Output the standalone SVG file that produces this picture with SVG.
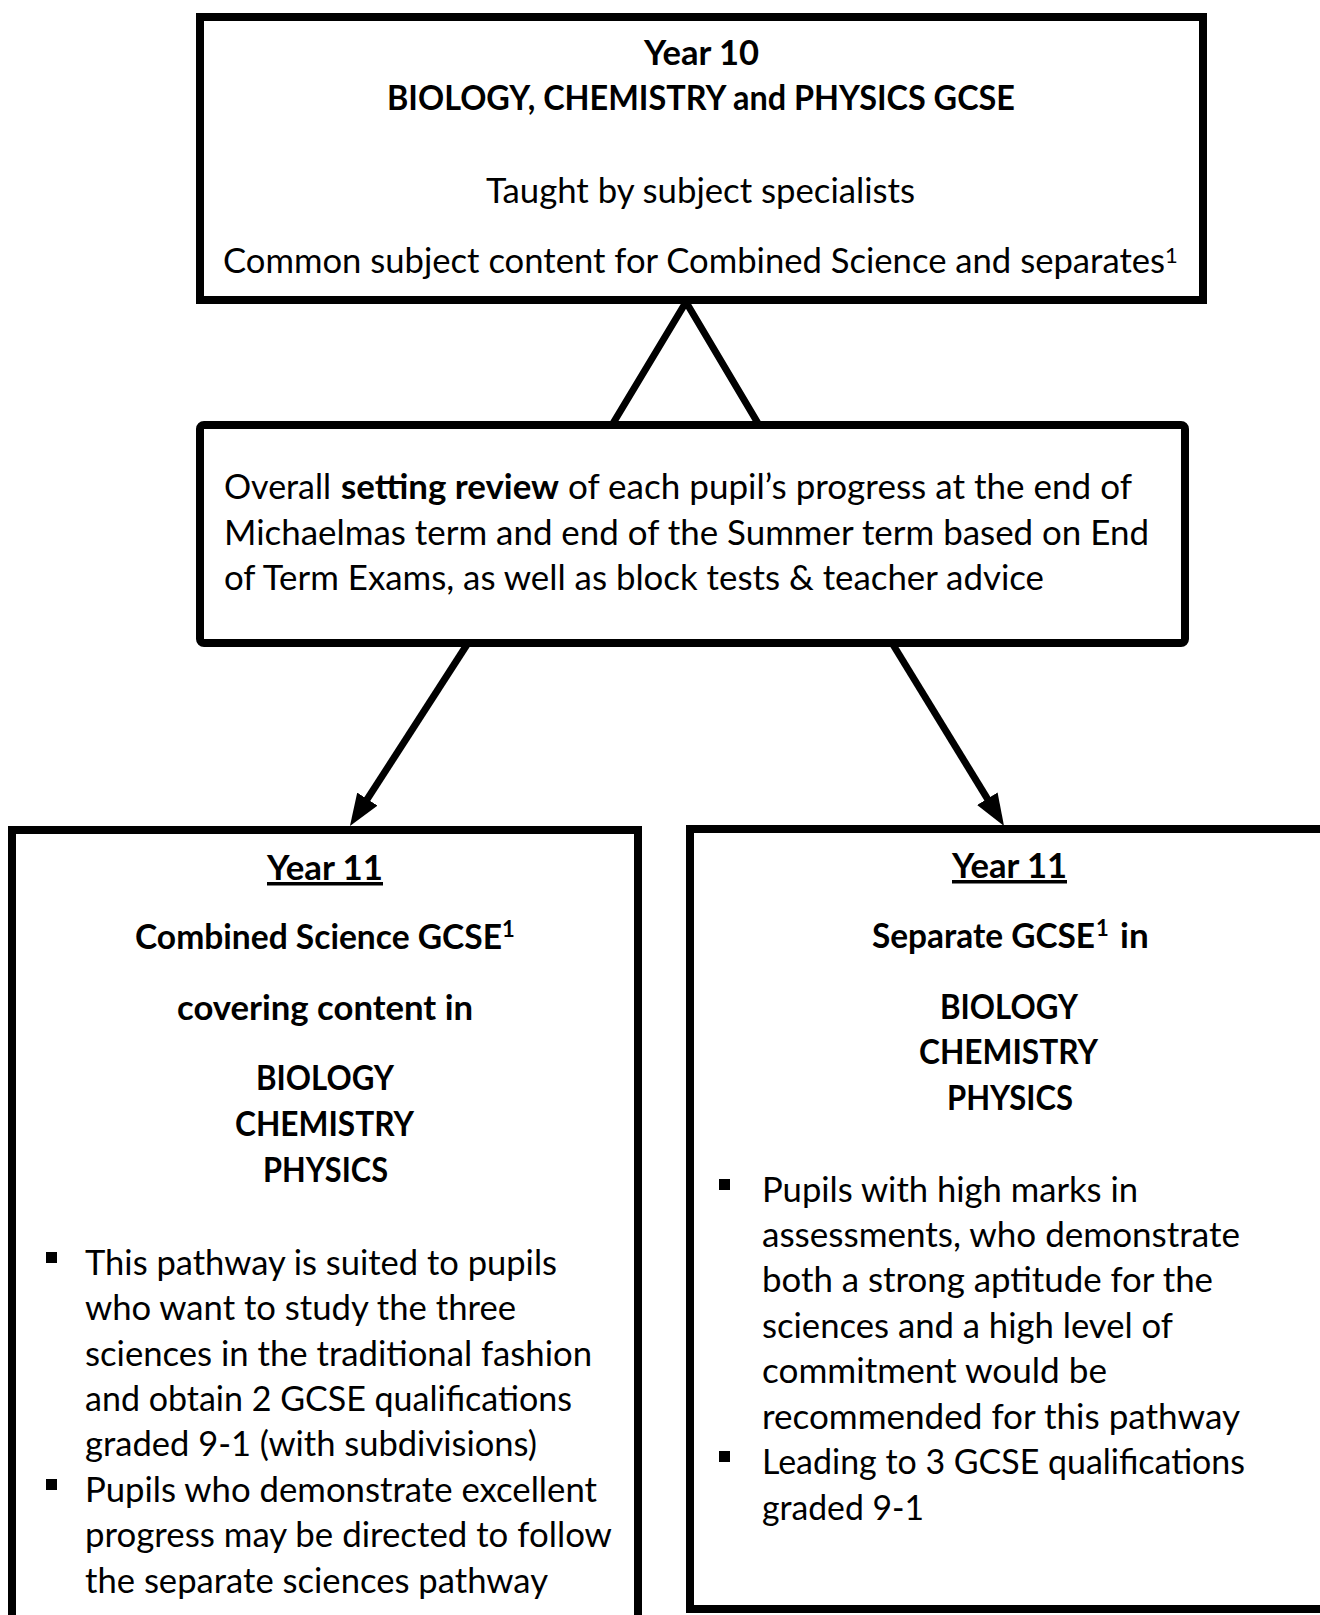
<svg xmlns="http://www.w3.org/2000/svg" width="1320" height="1615" viewBox="0 0 1320 1615">
<style>
.box{fill:#fff;stroke:#000;stroke-width:8}
.t{font-family:Lato,"Open Sans","Liberation Sans",sans-serif;font-size:35px;fill:#000}
.b{font-weight:bold}
.sup{font-size:22px}
.u{text-decoration:underline}
.conn{fill:none;stroke:#000;stroke-width:7}
.bul{fill:#000}
</style>
<defs>
<marker id="arrow" markerUnits="userSpaceOnUse" markerWidth="32" markerHeight="24" viewBox="0 0 32 24" refX="12" refY="12" orient="auto">
<path d="M0,0 L32,12 L0,24 z" fill="#000"/>
</marker>
</defs>
<rect width="1320" height="1615" fill="#fff"/>

<g id="connectors">
<polyline class="conn" points="612,425 686,302 759,425" stroke-linejoin="miter"/>
<line class="conn" x1="468" y1="643" x2="360.8" y2="809.2" marker-end="url(#arrow)"/>
<line class="conn" x1="892" y1="643" x2="993.6" y2="808.9" marker-end="url(#arrow)"/>
</g>

<g id="year10">
<rect class="box" x="200" y="17" width="1003" height="283"/>
<text class="t b" x="644" y="65" textLength="115" lengthAdjust="spacingAndGlyphs">Year 10</text>
<text class="t b" x="387" y="110" textLength="628" lengthAdjust="spacingAndGlyphs">BIOLOGY, CHEMISTRY and PHYSICS GCSE</text>
<text class="t" x="486" y="203" textLength="429" lengthAdjust="spacingAndGlyphs">Taught by subject specialists</text>
<text class="t" x="223" y="273"><tspan textLength="942" lengthAdjust="spacingAndGlyphs">Common subject content for Combined Science and separates</tspan><tspan class="sup" x="1165" y="263">1</tspan></text>
</g>

<g id="review">
<rect class="box" x="200" y="425" width="985" height="218" rx="4"/>
<text class="t" x="224" y="499" textLength="107" lengthAdjust="spacingAndGlyphs">Overall</text>
<text class="t b" x="341" y="499" textLength="218" lengthAdjust="spacingAndGlyphs">setting review</text>
<text class="t" x="568" y="499" textLength="564" lengthAdjust="spacingAndGlyphs">of each pupil’s progress at the end of</text>
<text class="t" x="224" y="545" textLength="925" lengthAdjust="spacingAndGlyphs">Michaelmas term and end of the Summer term based on End</text>
<text class="t" x="224" y="590" textLength="820" lengthAdjust="spacingAndGlyphs">of Term Exams, as well as block tests &amp; teacher advice</text>
</g>

<g id="combined">
<rect class="box" x="12" y="830" width="626" height="820"/>
<text class="t b u" x="267" y="880" textLength="116" lengthAdjust="spacingAndGlyphs">Year 11</text>
<text class="t b" x="135" y="949"><tspan textLength="367" lengthAdjust="spacingAndGlyphs">Combined Science GCSE</tspan><tspan class="sup" x="502" y="937">1</tspan></text>
<text class="t b" x="177" y="1020" textLength="296" lengthAdjust="spacingAndGlyphs">covering content in</text>
<text class="t b" x="256" y="1090" textLength="138" lengthAdjust="spacingAndGlyphs">BIOLOGY</text>
<text class="t b" x="235" y="1136" textLength="179" lengthAdjust="spacingAndGlyphs">CHEMISTRY</text>
<text class="t b" x="263" y="1182" textLength="125" lengthAdjust="spacingAndGlyphs">PHYSICS</text>
<rect class="bul" x="46" y="1252" width="11" height="11"/>
<text class="t" x="85" y="1275" textLength="472" lengthAdjust="spacingAndGlyphs">This pathway is suited to pupils</text>
<text class="t" x="85" y="1320" textLength="431" lengthAdjust="spacingAndGlyphs">who want to study the three</text>
<text class="t" x="85" y="1366" textLength="507" lengthAdjust="spacingAndGlyphs">sciences in the traditional fashion</text>
<text class="t" x="85" y="1411" textLength="487" lengthAdjust="spacingAndGlyphs">and obtain 2 GCSE qualifications</text>
<text class="t" x="85" y="1456" textLength="452" lengthAdjust="spacingAndGlyphs">graded 9-1 (with subdivisions)</text>
<rect class="bul" x="46" y="1479" width="11" height="11"/>
<text class="t" x="85" y="1502" textLength="512" lengthAdjust="spacingAndGlyphs">Pupils who demonstrate excellent</text>
<text class="t" x="85" y="1547" textLength="527" lengthAdjust="spacingAndGlyphs">progress may be directed to follow</text>
<text class="t" x="85" y="1593" textLength="463" lengthAdjust="spacingAndGlyphs">the separate sciences pathway</text>
</g>

<g id="separate">
<rect class="box" x="690" y="829" width="720" height="780"/>
<text class="t b u" x="952" y="878" textLength="115" lengthAdjust="spacingAndGlyphs">Year 11</text>
<text class="t b" x="872" y="948"><tspan textLength="223" lengthAdjust="spacingAndGlyphs">Separate GCSE</tspan><tspan class="sup" x="1096" y="936">1</tspan><tspan x="1120" y="948">in</tspan></text>
<text class="t b" x="940" y="1019" textLength="138" lengthAdjust="spacingAndGlyphs">BIOLOGY</text>
<text class="t b" x="919" y="1064" textLength="179" lengthAdjust="spacingAndGlyphs">CHEMISTRY</text>
<text class="t b" x="947" y="1110" textLength="126" lengthAdjust="spacingAndGlyphs">PHYSICS</text>
<rect class="bul" x="719" y="1179" width="11" height="11"/>
<text class="t" x="762" y="1202" textLength="376" lengthAdjust="spacingAndGlyphs">Pupils with high marks in</text>
<text class="t" x="762" y="1247" textLength="478" lengthAdjust="spacingAndGlyphs">assessments, who demonstrate</text>
<text class="t" x="762" y="1292" textLength="451" lengthAdjust="spacingAndGlyphs">both a strong aptitude for the</text>
<text class="t" x="762" y="1338" textLength="411" lengthAdjust="spacingAndGlyphs">sciences and a high level of</text>
<text class="t" x="762" y="1383" textLength="345" lengthAdjust="spacingAndGlyphs">commitment would be</text>
<text class="t" x="762" y="1429" textLength="478" lengthAdjust="spacingAndGlyphs">recommended for this pathway</text>
<rect class="bul" x="719" y="1451" width="11" height="11"/>
<text class="t" x="762" y="1474" textLength="483" lengthAdjust="spacingAndGlyphs">Leading to 3 GCSE qualifications</text>
<text class="t" x="762" y="1520" textLength="162" lengthAdjust="spacingAndGlyphs">graded 9-1</text>
</g>
</svg>
